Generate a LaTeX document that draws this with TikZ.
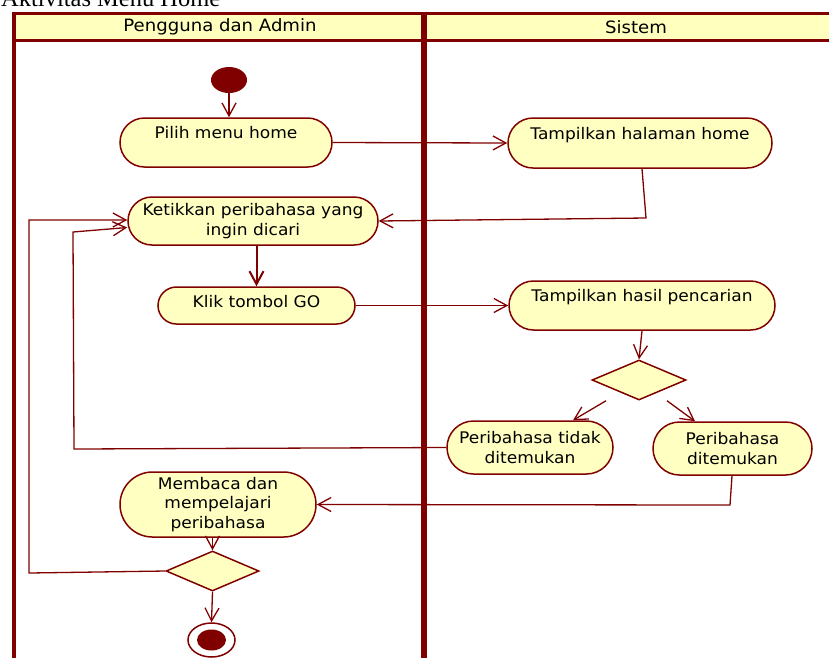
\documentclass[tikz,border=0pt]{standalone}
\usepackage{fontspec}
\setmainfont{DejaVu Sans}[FakeStretch=1.065]
\newfontfamily\titlefont{Liberation Serif}
\usetikzlibrary{shapes.misc,shapes.geometric,arrows.meta}
\definecolor{dred}{RGB}{128,0,0}
\definecolor{nfill}{RGB}{255,255,194}
\definecolor{hfill}{RGB}{255,255,190}
\begin{document}
\begin{tikzpicture}[x=1pt,y=-1pt,
  act/.style={rounded rectangle, draw=dred, fill=nfill, line width=1.5pt, inner sep=0pt, align=center, font=\fontsize{16}{19.5}\selectfont},
  dec/.style={diamond, draw=dred, fill=nfill, line width=1.5pt, inner sep=0pt},
  arr/.style={draw=dred, line width=1.3pt, -{Straight Barb[length=13pt,width=14pt]}},
  lane/.style={inner sep=0pt, font=\fontsize{17}{20}\selectfont}]
\useasboundingbox (0,0) rectangle (829,657);
\clip (0,0) rectangle (829,657);

% title (cut off at the top)
\node[anchor=base west, inner sep=0pt, font=\titlefont\fontsize{24.5}{26}\selectfont] (title) at (1,6) {Aktivitas Menu Home};

% swimlane frame
\fill[hfill] (14,13) rectangle (835,40);
\draw[dred, line width=3pt] (14,13) -- (835,13);
\draw[dred, line width=3pt] (14,40) -- (835,40);
\draw[dred, line width=4pt] (14,11.5) -- (14,665);
\draw[dred, line width=6pt] (424,11.5) -- (424,665);
\node[lane] (h1) at (220,27) {Pengguna dan Admin};
\node[lane] (h2) at (636,27) {Sistem};

% nodes
\node[ellipse, fill=dred, minimum width=36pt, minimum height=26pt, inner sep=0pt] (start) at (229,80) {};
\node[act, minimum width=212pt, minimum height=49pt] (pilih) at (226,142.5) {Pilih menu home\\\mbox{}};
\node[act, minimum width=264pt, minimum height=50pt] (thome) at (640,143) {Tampilkan halaman home\\\mbox{}};
\node[act, minimum width=250pt, minimum height=48pt] (ketik) at (253,221) {Ketikkan peribahasa yang\\ingin dicari};
\node[act, minimum width=197pt, minimum height=37pt] (klik) at (256.5,305.5) {Klik tombol GO\\[-12pt]\mbox{}};
\node[act, minimum width=266pt, minimum height=49pt] (thasil) at (642,305.5) {Tampilkan hasil pencarian\\\mbox{}};
\node[dec, minimum width=94pt, minimum height=40pt] (dec1) at (639,380) {};
\node[act, minimum width=166pt, minimum height=53pt] (tidak) at (530,447.5) {Peribahasa tidak\\ditemukan};
\node[act, minimum width=159pt, minimum height=53pt] (temu) at (732.5,448.5) {Peribahasa\\ditemukan};
\node[act, minimum width=196pt, minimum height=65pt] (baca) at (218,504.5) {Membaca dan\\mempelajari\\peribahasa};
\node[dec, minimum width=93pt, minimum height=40pt] (dec2) at (212.5,571) {};
\node[ellipse, draw=dred, fill=white, line width=1.5pt, minimum width=47pt, minimum height=34pt, inner sep=0pt,
  path picture={\fill[dred] (path picture bounding box.center) ellipse [x radius=14.5pt, y radius=10.5pt];}] (end) at (211.5,640) {};

% connectors
\draw[arr] (start.south) -- (start.south |- pilih.north);
\draw[arr] (pilih.east) -- (thome.west);
\draw[arr] ([xshift=2pt]thome.south) -- (646,218) -- (ketik.east);
\draw[arr, line width=2pt] (klik.north |- ketik.south) -- (klik.north);
\draw[arr] (klik.east) -- (thasil.west);
\draw[arr] (thasil.south) -- (dec1.north);
\draw[arr] ([xshift=-33pt]dec1.south) -- ([xshift=43pt]tidak.north);
\draw[arr] ([xshift=28pt]dec1.south) -- ([xshift=-37.5pt]temu.north);
\draw[arr] (tidak.west) -- (74,449) -- (73,232) -- ([yshift=-6.5pt]ketik.west);
\draw[arr] (dec2.west) -- (29,573) -- (29,220) -- ([yshift=1pt]ketik.west);
\draw[arr] ([xshift=-0.5pt]temu.south) -- (730,505) -- (baca.east);
\draw[arr] (dec2.north |- baca.south) -- (dec2.north);
\draw[arr] (dec2.south) -- (end.north);
\end{tikzpicture}
\end{document}
